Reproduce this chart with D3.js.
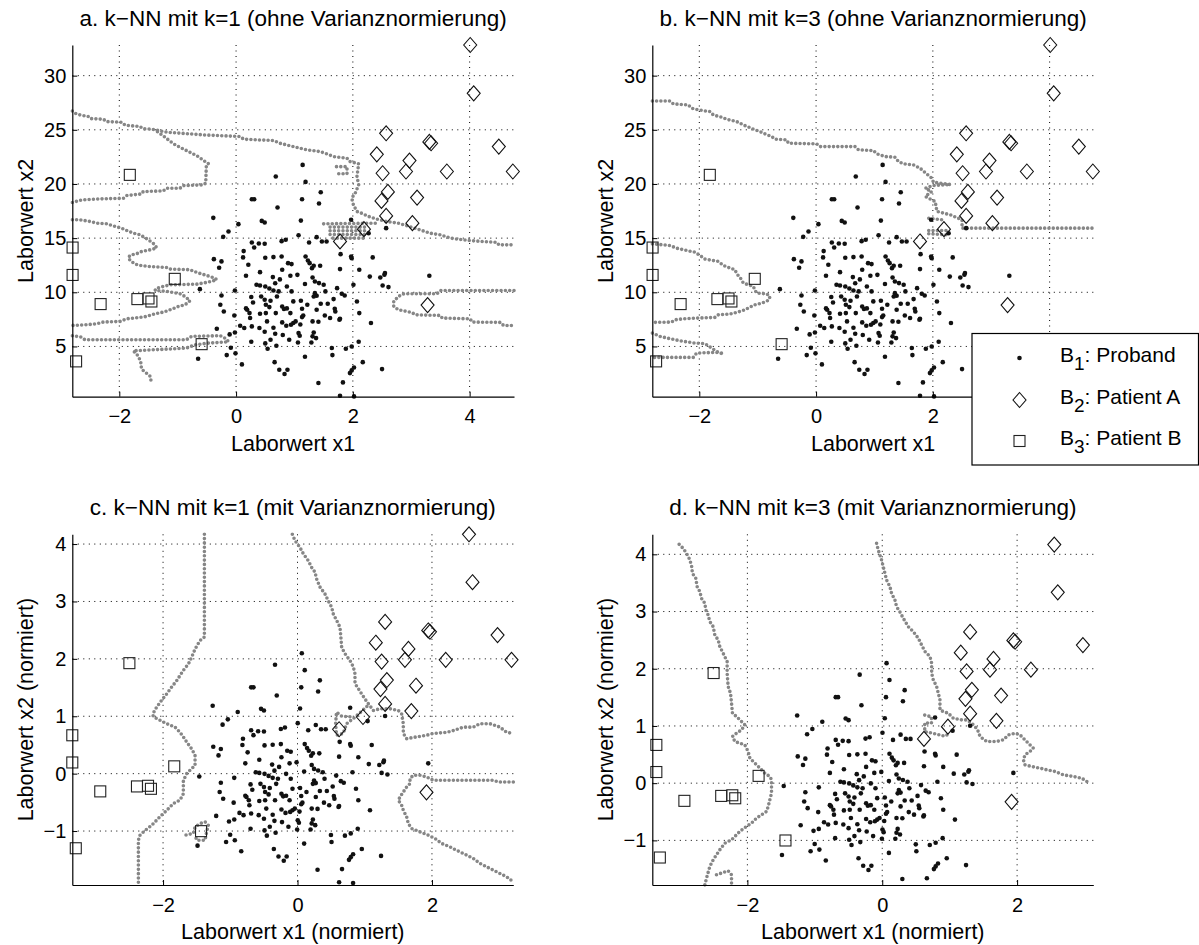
<!DOCTYPE html>
<html>
<head>
<meta charset="utf-8">
<script src="https://cdn.jsdelivr.net/npm/d3@7"></script>
<style>
  body { margin: 0; background: #fff; }
  text { font-family: "Liberation Sans", Arial, Helvetica, sans-serif; fill: #000; }
</style>
</head>
<body>
<div id="chart"></div>
<script>
// raw measurements (Laborwert x1, Laborwert x2)
var probandRaw = [
  [1.14,21.76],[0.68,20.69],[1.19,20.19],[1.45,19.24],[0.27,18.59],[0.31,18.59],[1.13,18.59],[0.71,17.83],[1.42,18.20],
  [-0.39,16.87],[0.44,16.59],[0.49,16.44],[1.11,16.62],[0.04,16.29],[-0.13,15.61],[-0.22,15.12],[1.07,15.26],[1.38,15.09],
  [0.27,14.60],[0.39,14.51],[0.49,14.48],[0.78,14.72],[0.85,14.85],[1.25,14.60],[1.47,14.69],[1.55,14.69],[0.31,14.14],
  [0.13,13.80],[1.19,13.31],[-0.38,13.06],[-0.25,12.85],[0.12,13.22],[0.50,13.19],[0.64,13.25],[0.78,13.31],[1.23,12.94],
  [1.26,12.69],[1.33,12.45],[-0.29,12.26],[0.21,12.54],[0.89,12.69],[0.95,12.60],[1.44,12.45],[1.30,12.23],[0.41,11.86],
  [0.79,12.08],[0.63,11.40],[0.17,11.52],[1.05,11.61],[1.31,11.37],[1.35,11.00],[0.75,11.19],[0.93,11.52],[0.35,10.69],
  [0.41,10.63],[0.50,10.54],[0.57,10.35],[0.67,10.84],[1.18,10.76],[1.42,10.85],[1.50,10.69],[-0.62,10.29],[-0.02,10.17],
  [0.64,10.17],[0.73,10.08],[0.70,9.61],[0.26,9.56],[0.43,9.61],[0.49,9.31],[0.87,10.54],[0.95,10.08],[1.35,9.92],
  [1.38,9.68],[1.53,10.08],[1.73,10.38],[-0.25,9.71],[1.33,9.61],[1.67,9.37],[0.29,9.06],[0.59,9.22],[0.98,9.16],
  [1.11,9.22],[1.22,8.85],[1.45,8.94],[1.57,8.94],[-0.27,8.85],[0.17,8.51],[0.19,8.39],[0.51,8.85],[0.57,8.63],
  [0.79,8.69],[0.82,8.45],[0.87,8.51],[1.13,8.48],[1.38,8.39],[1.69,8.48],[1.70,8.23],[-0.21,8.23],[-0.03,7.86],
  [0.23,8.08],[0.41,8.02],[0.51,8.08],[0.68,8.08],[0.93,8.08],[1.15,7.86],[1.13,7.71],[1.52,7.86],[1.61,7.62],
  [1.77,7.46],[0.24,7.62],[0.53,7.31],[0.79,7.22],[0.98,7.16],[0.94,7.00],[1.02,7.31],[1.10,7.03],[1.31,7.31],
  [1.41,7.28],[0.07,6.91],[0.14,6.70],[0.27,6.85],[0.40,6.70],[0.64,6.73],[0.86,6.91],[-0.33,6.63],
  [-0.11,6.11],[0.49,6.36],[1.07,6.23],[1.09,5.99],[1.33,6.29],[1.31,5.93],[1.37,5.77],[1.29,5.37],[0.26,5.43],
  [0.50,5.28],[0.54,4.79],[0.59,5.62],[0.69,5.06],[0.80,6.05],[0.91,5.62],[1.06,5.37],[1.64,4.85],[1.65,4.20],
  [1.88,4.79],[1.98,5.00],[2.10,5.43],[-0.09,4.88],[-0.16,4.20],[-0.01,4.36],[0.10,3.34],[0.66,3.55],[0.74,2.85],
  [0.83,2.45],[0.88,2.85],[1.18,4.05],[2.17,3.55],[2.02,3.06],[1.98,2.79],[1.95,2.54],[2.50,2.91],[1.41,1.62],
  [1.83,1.68],[1.78,0.45],[2.02,0.39],[-0.65,3.86],[-0.02,6.29],[0.67,6.17],
  [1.97,16.69],[2.57,15.92],[2.27,15.45],[1.79,13.52],[1.97,13.31],[1.98,13.15],[2.34,13.22],[1.78,12.14],[2.11,12.08],
  [2.29,11.45],[2.47,11.37],[2.54,11.62],[2.55,11.77],[3.31,11.52],[2.01,10.69],[2.51,10.63],[2.61,10.48],[1.81,9.86],
  [1.86,9.71],[2.07,9.15],[2.11,8.08],[1.78,7.55],[2.31,7.16]
];
var patientARaw = [
  [4.01,32.83],[4.07,28.37],[2.57,24.68],[2.41,22.74],[3.31,23.88],[3.34,23.76],[4.50,23.45],[2.97,22.16],[2.91,21.15],
  [2.51,20.99],[3.61,21.15],[4.74,21.15],[2.60,19.27],[2.49,18.43],[3.10,18.74],[2.57,17.05],[3.02,16.38],[2.19,15.83],
  [1.78,14.69],[3.28,8.82]
];
var patientBRaw = [
  [-1.82,20.84],[-2.80,14.13],[-2.80,11.60],[-2.32,8.91],[-1.69,9.37],[-1.50,9.43],[-1.45,9.15],[-1.05,11.24],
  [-0.59,5.21],[-2.74,3.62]
];
// mean and standard deviation used for the variance normalisation
var normMean = [1.066, 10.56];
var normStd = [1.154, 5.34];

// decision boundaries (grid cells where the k-NN class changes), raw units
var boundaryA = [
  [[-2.805,26.74],[-2.73,26.44],[-2.53,26.22],[-2.50,26.04],[-2.27,25.97],[-2.22,25.76],[-1.96,25.70],[-1.90,25.42],[-1.645,25.30],[-1.59,25.09],[-1.445,25.06],[-1.19,24.78],[-0.56,24.53],[0.07,24.38],[0.13,24.13],[0.64,24.01],[0.75,23.76],[0.98,23.45],[1.21,23.15],[1.44,22.99],[1.55,22.78],[1.67,22.53],[1.90,22.38],[1.95,22.07],[2.10,21.86],[2.07,20.68],[2.10,19.92],[2.04,19.15],[1.98,18.69],[2.01,18.07],[2.07,17.46],[2.15,17.30],[2.27,17.0],[2.41,16.75],[2.58,16.53],[2.78,16.38],[2.93,16.14],[3.15,15.76],[3.33,15.45],[3.50,15.30],[3.67,15.0],[3.98,14.78],[4.47,14.60],[4.50,14.38],[4.76,14.38]],
  [[1.72,21.6],[1.90,21.6],[1.90,20.95],[1.72,20.95]],
  [[1.50,16.32],[2.41,16.38]],
  [[1.61,16.02],[2.21,16.02]],
  [[1.61,15.68],[2.21,15.68]],
  [[1.61,15.34],[2.21,15.34]],
  [[1.66,15.0],[2.21,15.0]],
  [[-2.805,18.29],[-2.645,18.53],[-2.33,18.62],[-1.93,18.68],[-1.87,18.93],[-1.62,19.08],[-1.59,19.30],[-1.245,19.36],[-1.19,19.61],[-0.96,19.61],[-0.90,19.85],[-0.56,19.92],[-0.52,20.07],[-0.51,21.61],[-0.47,21.86],[-0.53,22.07],[-0.65,22.53],[-0.76,22.84],[-0.93,23.30],[-1.07,23.70],[-1.27,24.53],[-1.39,25.0]],
  [[-2.805,16.69],[-2.674,16.69],[-2.502,16.54],[-2.388,16.38],[-2.217,16.32],[-2.074,16.08],[-1.96,15.92],[-1.874,15.71],[-1.76,15.46],[-1.645,15.31],[-1.503,14.85],[-1.388,14.38],[-1.36,14.08],[-1.474,13.92],[-1.617,13.77],[-1.674,13.61],[-1.788,13.46],[-1.845,13.25],[-1.817,12.94],[-1.731,12.60],[-1.617,12.45],[-1.474,12.38],[-1.188,12.29],[-1.131,12.14],[-0.788,12.08],[-0.674,11.83],[-0.503,11.55],[-0.36,11.31],[-0.331,11.15],[-0.474,10.94],[-0.674,10.75],[-1.131,10.69],[-1.245,10.54],[-1.36,10.38],[-1.388,10.17],[-1.188,10.08],[-0.96,9.86],[-0.874,9.61],[-0.788,9.22],[-0.874,8.85],[-0.988,8.69],[-1.131,8.38],[-1.245,8.17],[-1.388,8.02],[-1.531,7.77],[-1.645,7.68],[-1.874,7.55],[-1.988,7.31],[-2.274,7.25],[-2.388,7.10],[-2.56,7.0],[-2.805,6.94]],
  [[-2.805,5.99],[-2.66,5.87],[-2.59,5.62],[-0.85,5.62],[-0.76,5.93],[-0.27,5.99],[-0.16,5.68],[-0.13,5.42],[-0.47,5.31],[-0.70,5.15],[-0.85,4.85],[-1.19,4.75],[-1.76,4.6],[-1.67,4.08],[-1.63,3.47],[-1.62,2.91],[-1.47,2.24],[-1.45,1.62]],
  [[4.76,10.16],[3.50,10.16],[3.44,9.86],[2.87,9.86],[2.78,9.61],[2.70,9.15],[2.70,8.69],[2.78,8.38],[3.01,8.14],[3.07,7.92],[3.50,7.86],[3.53,7.62],[4.01,7.55],[4.04,7.25],[4.53,7.22],[4.58,6.94],[4.76,6.94]]
];
var boundaryB = [
  [[-2.805,27.66],[-2.502,27.66],[-2.445,27.39],[-2.188,27.30],[-2.131,26.99],[-2.017,26.84],[-1.817,26.68],[-1.76,26.37],[-1.617,26.16],[-1.531,25.97],[-1.36,25.76],[-1.245,25.45],[-1.074,25.06],[-0.96,24.83],[-0.874,24.62],[-0.76,24.38],[-0.703,24.13],[-0.503,24.07],[-0.474,23.76],[0.011,23.70],[0.069,23.45],[0.668,23.45],[0.726,23.15],[0.983,23.08],[1.04,22.78],[1.183,22.53],[1.354,22.47],[1.411,22.07],[1.497,21.86],[1.668,21.76],[1.782,21.45],[1.982,20.53],[2.011,20.16],[2.30,19.95],[2.0,19.85],[1.87,19.6],[1.98,19.3],[1.87,18.84],[2.04,18.38],[2.07,17.46],[2.30,17.15],[2.50,16.69],[2.50,15.92],[4.76,15.92]],
  [[1.93,16.84],[2.15,16.69]],
  [[1.93,15.70],[2.24,15.70]],
  [[1.93,15.40],[2.24,15.30]],
  [[-2.805,14.47],[-2.502,14.32],[-2.388,14.07],[-2.217,13.86],[-2.074,13.70],[-1.988,13.40],[-1.902,13.06],[-1.674,12.85],[-1.588,12.48],[-1.474,12.23],[-1.388,12.08],[-1.36,11.71],[-1.302,11.37],[-1.245,10.85],[-1.074,10.54],[-1.045,10.17],[-1.017,9.92],[-0.846,9.86],[-0.788,9.61],[-0.817,9.25],[-0.931,9.0],[-1.045,8.85],[-1.131,8.63],[-1.217,8.39],[-1.302,8.23],[-1.474,7.99],[-1.674,7.92],[-1.731,7.68],[-2.017,7.62],[-2.274,7.55],[-2.417,7.46],[-2.474,7.25],[-2.805,7.22]],
  [[-2.805,6.23],[-2.674,5.93],[-2.474,5.68],[-2.274,5.47],[-2.074,5.31],[-1.902,5.25],[-1.788,4.85],[-1.702,4.54],[-1.588,4.32],[-1.702,4.45],[-2.045,4.39],[-2.102,3.99],[-2.805,3.99]]
];
// normalised units
var boundaryC = [
  [[-1.385,4.17],[-1.385,2.38],[-1.45,2.32],[-1.524,2.17],[-1.574,2.03],[-1.623,1.91],[-1.698,1.80],[-1.797,1.62],[-1.871,1.51],[-1.945,1.39],[-2.02,1.28],[-2.094,1.16],[-2.153,1.04],[-2.144,0.99],[-2.045,0.93],[-1.945,0.87],[-1.822,0.81],[-1.747,0.72],[-1.698,0.64],[-1.648,0.55],[-1.574,0.43],[-1.524,0.32],[-1.524,0.14],[-1.574,0.09],[-1.648,0.0],[-1.698,-0.12],[-1.698,-0.35],[-1.747,-0.46],[-1.846,-0.52],[-1.945,-0.64],[-2.045,-0.75],[-2.169,-0.90],[-2.268,-0.99],[-2.342,-1.07],[-2.367,-1.16],[-2.367,-1.94]],
  [[-1.658,-1.07],[-1.549,-1.04],[-1.524,-0.93],[-1.45,-0.87],[-1.375,-0.84],[-1.326,-0.90],[-1.351,-1.01],[-1.375,-1.16],[-1.50,-1.16],[-1.524,-1.07]],
  [[-0.077,4.17],[-0.037,4.06],[0.037,3.94],[0.087,3.83],[0.161,3.71],[0.211,3.59],[0.26,3.51],[0.285,3.39],[0.335,3.25],[0.409,3.13],[0.458,3.01],[0.508,2.90],[0.533,2.78],[0.582,2.67],[0.632,2.55],[0.645,2.38],[0.657,2.20],[0.706,2.09],[0.781,1.97],[0.830,1.86],[0.855,1.74],[0.855,1.57],[0.905,1.48],[0.954,1.39],[1.004,1.30],[1.053,1.22],[1.128,1.10],[1.227,1.13],[1.376,1.13],[1.50,1.10],[1.549,1.04],[1.574,0.87],[1.574,0.70],[1.624,0.61],[1.772,0.64],[1.921,0.67],[2.02,0.70],[2.218,0.72],[2.317,0.75],[2.466,0.81],[2.615,0.81],[2.714,0.87],[2.863,0.87],[3.012,0.81],[3.111,0.72],[3.21,0.70]],
  [[0.78,0.99],[0.66,1.0],[0.58,1.07],[0.567,0.87],[0.58,0.67],[0.68,0.70],[0.73,0.87],[0.83,0.96],[0.93,1.06],[1.05,1.19]],
  [[3.21,-0.145],[2.986,-0.145],[2.912,-0.116],[2.02,-0.116],[1.921,-0.058],[1.822,-0.029],[1.722,-0.029],[1.673,-0.087],[1.673,-0.174],[1.624,-0.232],[1.574,-0.319],[1.524,-0.406],[1.50,-0.464],[1.549,-0.551],[1.574,-0.638],[1.624,-0.754],[1.648,-0.870],[1.698,-0.957],[1.822,-1.014],[1.945,-1.072],[2.045,-1.130],[2.144,-1.217],[2.268,-1.275],[2.342,-1.322],[2.466,-1.391],[2.565,-1.449],[2.615,-1.478],[2.714,-1.565],[2.862,-1.652],[3.011,-1.739],[3.11,-1.797],[3.209,-1.884]]
];
var boundaryD = [
  [[-3.012,4.174],[-2.953,4.104],[-2.903,4.017],[-2.864,3.93],[-2.829,3.813],[-2.814,3.667],[-2.765,3.58],[-2.745,3.435],[-2.705,3.347],[-2.681,3.231],[-2.631,3.144],[-2.616,3.027],[-2.582,2.94],[-2.557,2.823],[-2.507,2.736],[-2.483,2.59],[-2.433,2.503],[-2.409,2.387],[-2.359,2.27],[-2.30,2.125],[-2.30,1.921],[-2.285,1.688],[-2.25,1.572],[-2.235,1.397],[-2.221,1.222],[-2.161,1.164],[-2.087,1.077],[-2.038,1.019],[-2.087,0.931],[-2.161,0.873],[-2.221,0.815],[-2.186,0.728],[-2.112,0.698],[-2.038,0.669],[-1.988,0.553],[-1.963,0.436],[-1.914,0.378],[-1.864,0.320],[-1.79,0.233],[-1.741,0.174],[-1.667,0.116],[-1.642,0.058],[-1.642,-0.176],[-1.667,-0.29],[-1.691,-0.407],[-1.716,-0.495],[-1.79,-0.553],[-1.864,-0.611],[-1.939,-0.699],[-2.013,-0.757],[-2.112,-0.844],[-2.186,-0.932],[-2.235,-0.99],[-2.334,-1.048],[-2.409,-1.165],[-2.507,-1.34],[-2.557,-1.456],[-2.606,-1.66],[-2.631,-1.78]],
  [[-2.458,-1.602],[-2.285,-1.532],[-2.235,-1.602],[-2.235,-1.78]],
  [[-0.084,4.192],[-0.059,4.075],[-0.035,3.988],[-0.01,3.901],[0.015,3.784],[0.04,3.668],[0.064,3.551],[0.114,3.435],[0.138,3.318],[0.188,3.202],[0.213,3.085],[0.263,2.99],[0.312,2.882],[0.386,2.736],[0.46,2.649],[0.535,2.533],[0.584,2.416],[0.634,2.3],[0.708,2.212],[0.733,2.096],[0.733,1.921],[0.757,1.805],[0.807,1.688],[0.831,1.572],[0.856,1.455],[0.856,1.281],[0.906,1.251],[0.98,1.222],[1.054,1.135],[1.178,1.106],[1.252,1.106],[1.326,1.048],[1.376,0.99],[1.425,0.902],[1.45,0.815],[1.549,0.728],[1.697,0.728],[1.796,0.757],[1.871,0.844],[1.97,0.873],[2.043,0.844],[2.117,0.757],[2.191,0.669],[2.241,0.611],[2.191,0.553],[2.117,0.495],[2.093,0.407],[2.117,0.32],[2.216,0.291],[2.34,0.262],[2.439,0.233],[2.563,0.204],[2.686,0.145],[2.835,0.116],[2.959,0.087],[3.072,0.0]],
  [[0.63,1.19],[0.73,1.16],[0.73,1.05],[0.63,1.05],[0.63,0.90],[0.76,0.87],[0.93,0.82],[1.0,0.87]]
];

var titles = [
  "a. k\u2212NN mit k=1 (ohne Varianznormierung)",
  "b. k\u2212NN mit k=3 (ohne Varianznormierung)",
  "c. k\u2212NN mit k=1 (mit Varianznormierung)",
  "d. k\u2212NN mit k=3 (mit Varianznormierung)"
];
var rawTicksX = [-2, 0, 2, 4];
var rawTicksY = [5, 10, 15, 20, 25, 30];
var normTicksX = [-2, 0, 2];
var normTicksY = [-1, 0, 1, 2, 3, 4];
var legendLabels = [["1", ": Proband"], ["2", ": Patient A"], ["3", ": Patient B"]];

var width = 1199, height = 945;
var svg = d3.select("#chart").append("svg")
  .attr("width", width).attr("height", height);

function normalize(p){
  return [(p[0] - normMean[0]) / normStd[0], (p[1] - normMean[1]) / normStd[1]];
}
function identity(p){ return p; }

var panels = [
  {left: 72.3, top: 45, w: 441.7, h: 351.7, xd: [-2.805, 4.76], yd: [0.36, 32.83], xt: rawTicksX, yt: rawTicksY,
   tf: identity, bnd: boundaryA, title: titles[0], xl: "Laborwert x1", yl: "Laborwert x2"},
  {left: 652.3, top: 45, w: 441.7, h: 351.7, xd: [-2.805, 4.76], yd: [0.36, 32.83], xt: rawTicksX, yt: rawTicksY,
   tf: identity, bnd: boundaryB, title: titles[1], xl: "Laborwert x1", yl: "Laborwert x2"},
  {left: 72.3, top: 534.3, w: 441, h: 350.7, xd: [-3.35, 3.21], yd: [-1.94, 4.17], xt: normTicksX, yt: normTicksY,
   tf: normalize, bnd: boundaryC, title: titles[2], xl: "Laborwert x1 (normiert)", yl: "Laborwert x2 (normiert)"},
  {left: 652.3, top: 534.3, w: 441, h: 350.7, xd: [-3.41, 3.13], yd: [-1.78, 4.35], xt: normTicksX, yt: normTicksY,
   tf: normalize, bnd: boundaryD, title: titles[3], xl: "Laborwert x1 (normiert)", yl: "Laborwert x2 (normiert)"}
];

function diamondPath(hw, hh){
  return "M0," + (-hh) + "L" + hw + ",0L0," + hh + "L" + (-hw) + ",0Z";
}

panels.forEach(function(p, i){
  var g = svg.append("g").attr("transform", "translate(" + p.left + "," + p.top + ")");
  var x = d3.scaleLinear().domain(p.xd).range([0, p.w]);
  var y = d3.scaleLinear().domain(p.yd).range([p.h, 0]);

  //clip for the boundary lines
  svg.append("clipPath").attr("id", "clip" + i)
    .append("rect").attr("x", -2).attr("y", -2).attr("width", p.w + 4).attr("height", p.h + 4);

  //dotted grid
  g.selectAll(".gx").data(p.xt).enter().append("line")
    .attr("x1", function(d){ return x(d); }).attr("x2", function(d){ return x(d); })
    .attr("y1", 0).attr("y2", p.h)
    .attr("stroke", "#000").attr("stroke-width", 1).attr("stroke-dasharray", "1,4.5");
  g.selectAll(".gy").data(p.yt).enter().append("line")
    .attr("y1", function(d){ return y(d); }).attr("y2", function(d){ return y(d); })
    .attr("x1", 0).attr("x2", p.w)
    .attr("stroke", "#000").attr("stroke-width", 1).attr("stroke-dasharray", "1,4.5");

  //decision boundary drawn as grey dots
  var line = d3.line().x(function(d){ return x(d[0]); }).y(function(d){ return y(d[1]); });
  g.append("g").attr("clip-path", "url(#clip" + i + ")")
    .selectAll("path").data(p.bnd).enter().append("path")
    .attr("d", line)
    .attr("fill", "none").attr("stroke", "#868686").attr("stroke-width", 3.6)
    .attr("stroke-linecap", "round").attr("stroke-linejoin", "round")
    .attr("stroke-dasharray", "0 4.3");

  function inside(d){
    return d[0] >= p.xd[0] - 0.01 && d[0] <= p.xd[1] + 0.01 && d[1] >= p.yd[0] - 0.01 && d[1] <= p.yd[1] + 0.01;
  }
  var prob = probandRaw.map(p.tf).filter(inside);
  var patA = patientARaw.map(p.tf).filter(inside);
  var patB = patientBRaw.map(p.tf).filter(inside);

  g.selectAll(".sq").data(patB).enter().append("rect")
    .attr("x", function(d){ return x(d[0]) - 5.5; }).attr("y", function(d){ return y(d[1]) - 5.5; })
    .attr("width", 11).attr("height", 11)
    .attr("fill", "none").attr("stroke", "#222").attr("stroke-width", 1.1);
  g.selectAll(".dm").data(patA).enter().append("path")
    .attr("d", diamondPath(6.5, 7.5))
    .attr("transform", function(d){ return "translate(" + x(d[0]) + "," + y(d[1]) + ")"; })
    .attr("fill", "none").attr("stroke", "#111").attr("stroke-width", 1.1);
  g.selectAll(".pt").data(prob).enter().append("circle")
    .attr("cx", function(d){ return x(d[0]); }).attr("cy", function(d){ return y(d[1]); })
    .attr("r", 2.3).attr("fill", "#111");

  //axes, only left and bottom, ticks inside
  var fmt = d3.format("d");
  var xAxis = g.append("g").attr("transform", "translate(0," + p.h + ")")
    .call(d3.axisBottom(x).tickValues(p.xt).tickFormat(fmt).tickSizeInner(-5).tickSizeOuter(0).tickPadding(12.5));
  var yAxis = g.append("g")
    .call(d3.axisLeft(y).tickValues(p.yt).tickFormat(fmt).tickSizeInner(-5).tickSizeOuter(0).tickPadding(6));
  [xAxis, yAxis].forEach(function(a){
    a.select(".domain").attr("stroke", "#000").attr("stroke-width", 1.2);
    a.selectAll(".tick line").attr("stroke", "#000");
    a.selectAll("text").attr("font-size", 20).attr("font-family", "Liberation Sans, Arial, sans-serif").attr("fill", "#000");
  });

  g.append("text").attr("x", p.w / 2).attr("y", -19).attr("text-anchor", "middle")
    .attr("font-size", 22.5).text(p.title);
  g.append("text").attr("x", p.w / 2).attr("y", p.h + 54).attr("text-anchor", "middle")
    .attr("font-size", 21.5).text(p.xl);
  g.append("text").attr("transform", "translate(-39," + (p.h / 2) + ") rotate(-90)")
    .attr("text-anchor", "middle").attr("font-size", 21.5).text(p.yl);
});

// legend, placed over panel b
var lg = svg.append("g").attr("transform", "translate(972,333.5)");
lg.append("rect").attr("width", 226.5).attr("height", 131.5)
  .attr("fill", "#fff").attr("stroke", "#000").attr("stroke-width", 1.2);
var rowY = [24.5, 66.5, 107.5];
lg.append("circle").attr("cx", 47.5).attr("cy", rowY[0]).attr("r", 2.3).attr("fill", "#111");
lg.append("path").attr("d", diamondPath(6.5, 7.5))
  .attr("transform", "translate(47.5," + rowY[1] + ")")
  .attr("fill", "none").attr("stroke", "#111").attr("stroke-width", 1.1);
lg.append("rect").attr("x", 42).attr("y", rowY[2] - 5.5).attr("width", 11).attr("height", 11)
  .attr("fill", "none").attr("stroke", "#222").attr("stroke-width", 1.1);
legendLabels.forEach(function(l, i){
  var t = lg.append("text").attr("x", 88).attr("y", rowY[i] + 4).attr("font-size", 21);
  t.append("tspan").text("B");
  t.append("tspan").attr("dy", 8).attr("font-size", 19).text(l[0]);
  t.append("tspan").attr("dy", -8).text(l[1]);
});
</script>
</body>
</html>
